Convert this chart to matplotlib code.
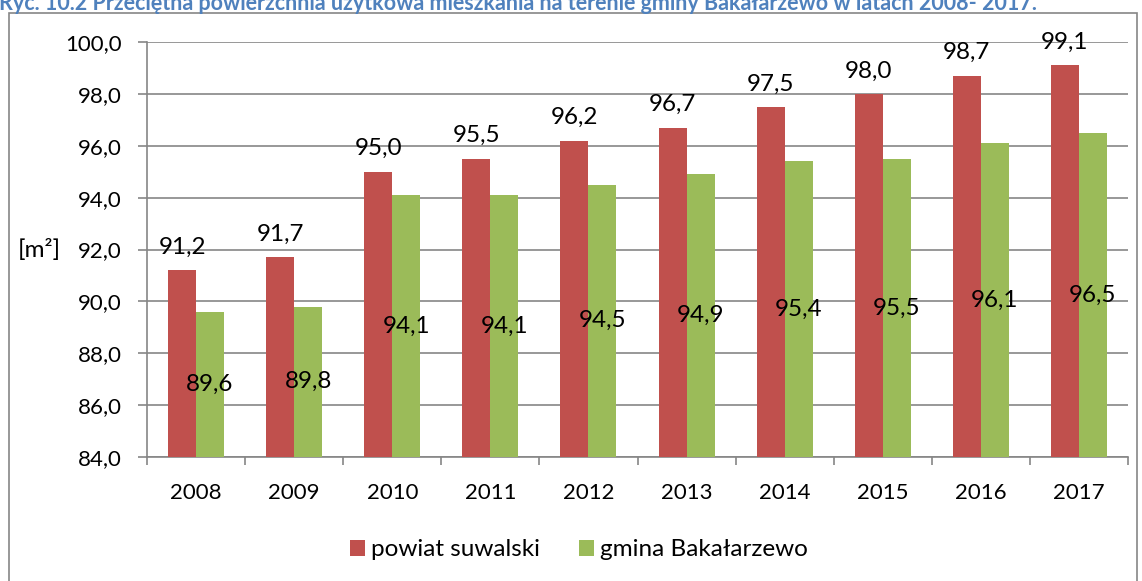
import matplotlib.pyplot as plt
import numpy as np
from matplotlib.patches import Rectangle

years = ['2008', '2009', '2010', '2011', '2012', '2013', '2014', '2015', '2016', '2017']
powiat = [91.2, 91.7, 95.0, 95.5, 96.2, 96.7, 97.5, 98.0, 98.7, 99.1]
gmina = [89.6, 89.8, 94.1, 94.1, 94.5, 94.9, 95.4, 95.5, 96.1, 96.5]
y_ticks = np.arange(84, 100.1, 2)

title = 'Ryc. 10.2 Przeciętna powierzchnia użytkowa mieszkania na terenie gminy Bakałarzewo w latach 2008- 2017.'

plt.rcParams['font.family'] = ['Lato', 'DejaVu Sans']

W, H = 1142, 581
fig = plt.figure(figsize=(W / 100, H / 100), dpi=100)

def px(x0, y0, x1, y1):
    # pixel box (top-left origin) -> figure fraction rect
    return [x0 / W, 1 - y1 / H, (x1 - x0) / W, (y1 - y0) / H]

# outer chart frame
fig.patches.append(Rectangle((8.5 / W, -0.05), (1137 - 8.5) / W, 1.05 - 13 / H,
                             transform=fig.transFigure, fill=False,
                             edgecolor='#868686', linewidth=1.2))

# title is cropped at the top edge, as in the source image
fig.text(-1 / W, 1 - 9.5 / H, title, color='#4F81BD', fontweight='bold',
         fontsize=15.5, va='baseline', ha='left')

ax = fig.add_axes(px(147, 42, 1128, 457))
x = np.arange(len(years))
bw = 0.285
red = '#C0504D'
green = '#9BBB59'
b1 = ax.bar(x - bw / 2, np.array(powiat) - 84, bw, bottom=84, color=red,
            label='powiat suwalski', zorder=3)
b2 = ax.bar(x + bw / 2, np.array(gmina) - 84, bw, bottom=84, color=green,
            label='gmina Bakałarzewo', zorder=3)

ax.set_xlim(-0.5, len(years) - 0.5)
ax.set_ylim(84, 100)
ax.set_yticks(y_ticks)
ax.set_yticklabels([f'{v:.1f}'.replace('.', ',') for v in y_ticks], fontsize=16)
ax.set_xticks(x)
ax.set_xticklabels(years, fontsize=16)
ax.set_xticks(np.arange(-0.5, len(years)), minor=True)
ax.tick_params(axis='x', which='major', length=0, pad=18.5)
ax.tick_params(axis='x', which='minor', length=6, color='#868686', width=1.2)
ax.tick_params(axis='y', length=6.5, color='#868686', width=1.2, pad=11.5)
ax.grid(axis='y', color='#868686', linewidth=1.2, zorder=0)
for s in ['top', 'right']:
    ax.spines[s].set_visible(False)
for s in ['left', 'bottom']:
    ax.spines[s].set_color('#868686')
    ax.spines[s].set_linewidth(1.2)

for rect, v in zip(b1, powiat):
    ax.annotate(f'{v:.1f}'.replace('.', ','), (rect.get_x() + rect.get_width() / 2, v),
                xytext=(0, 9), textcoords='offset points', ha='center', va='bottom',
                fontsize=17.5, zorder=4)
for rect, v in zip(b2, gmina):
    ax.text(rect.get_x() + rect.get_width() / 2, (84 + v) / 2, f'{v:.1f}'.replace('.', ','),
            ha='center', va='center', fontsize=17.5, zorder=4)

fig.text(18 / W, 1 - 250 / H, '[m²]', fontsize=17.5, va='center', ha='left')

leg = ax.legend(loc='center', bbox_to_anchor=(0.44, -0.224), ncol=2, frameon=False,
                fontsize=17.5, handlelength=0.62, handleheight=0.62, handletextpad=0.25,
                columnspacing=1.6)

fig.savefig('out.png', dpi=100)
